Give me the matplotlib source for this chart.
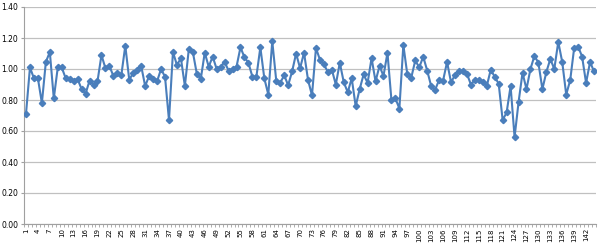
import matplotlib
matplotlib.use("Agg")
import matplotlib.pyplot as plt
import numpy as np

categories = list(range(1, 145))
values = [
    0.71, 1.01, 0.94, 0.94, 0.78, 1.045, 1.11, 0.81, 1.01, 1.01,
    0.94, 0.935, 0.925, 0.935, 0.87, 0.84, 0.925, 0.90, 0.92, 1.09,
    1.005, 1.02, 0.955, 0.975, 0.96, 1.15, 0.93, 0.975, 0.995, 1.02,
    0.89, 0.955, 0.935, 0.92, 1.00, 0.95, 0.67, 1.11, 1.025, 1.07,
    0.89, 1.13, 1.11, 0.97, 0.935, 1.105, 1.015, 1.08, 1.00, 1.015,
    1.045, 0.99, 1.00, 1.015, 1.14, 1.075, 1.04, 0.95, 0.95, 1.14,
    0.94, 0.835, 1.18, 0.925, 0.91, 0.96, 0.895, 0.985, 1.10, 1.005,
    1.105, 0.93, 0.83, 1.135, 1.06, 1.03, 0.98, 0.995, 0.90, 1.04,
    0.915, 0.85, 0.94, 0.76, 0.87, 0.965, 0.91, 1.07, 0.92, 1.02,
    0.955, 1.105, 0.80, 0.81, 0.745, 1.155, 0.965, 0.945, 1.055, 1.01,
    1.08, 0.99, 0.89, 0.865, 0.93, 0.925, 1.045, 0.915, 0.96, 0.985,
    0.99, 0.97, 0.90, 0.93, 0.927, 0.915, 0.89, 0.995, 0.95, 0.905,
    0.67, 0.72, 0.89, 0.56, 0.785, 0.975, 0.87, 1.00, 1.085, 1.04,
    0.87, 0.98, 1.065, 1.00, 1.175, 1.045, 0.835, 0.927, 1.135, 1.145,
    1.08, 0.91, 1.045, 0.985,
]
tick_labels = [str(c) for c in categories[::3]]
y_ticks = [0.0, 0.2, 0.4, 0.6, 0.8, 1.0, 1.2, 1.4]

fig = plt.figure(figsize=(6.0, 2.44), dpi=100)
ax = fig.add_axes([24/600, 1 - 224/244, 572/600, 217/244])

ax.plot(categories, values, color="#4A7EBB", linewidth=1.5,
        marker="D", markersize=3.2, markerfacecolor="#4A7EBB",
        markeredgecolor="#4A7EBB", zorder=3)

ax.set_xlim(0.5, 144.5)
ax.set_ylim(0, 1.4)
ax.set_yticks(y_ticks)
ax.set_yticklabels([f"{v:.2f}" for v in y_ticks], fontsize=5.5)
ax.grid(axis="y", color="#C0C0C0", linewidth=0.9)
ax.set_axisbelow(True)

ax.set_xticks(categories[::3])
ax.set_xticklabels(tick_labels, rotation=90, fontsize=5)
ax.set_xticks(np.arange(0.5, 145, 1), minor=True)
ax.tick_params(axis="x", which="major", length=0, pad=3)
ax.tick_params(axis="x", which="minor", length=2, color="#A0A0A0", width=0.6)
ax.tick_params(axis="y", length=2, color="#A0A0A0", pad=2)

for side in ["top", "right"]:
    ax.spines[side].set_visible(False)
ax.spines["left"].set_color("#A0A0A0")
ax.spines["bottom"].set_color("#A0A0A0")
ax.spines["left"].set_linewidth(0.8)
ax.spines["bottom"].set_linewidth(0.8)

fig.savefig("out.png", dpi=100)
